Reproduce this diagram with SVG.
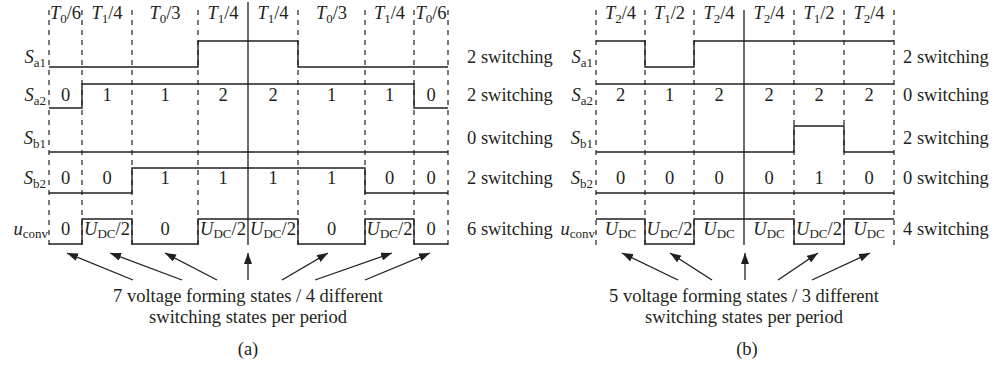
<svg xmlns="http://www.w3.org/2000/svg" width="999" height="367" viewBox="0 0 999 367">
<defs>
<style>
text{font-family:"Liberation Serif","Times New Roman",serif;font-size:18.5px;fill:#231f20}
.c{text-anchor:middle}
.e{text-anchor:end}
.i{font-style:italic}
.s{font-size:13px}
.grid{stroke:#231f20;stroke-width:1.2;stroke-dasharray:5,5;fill:none}
.axis{stroke:#231f20;stroke-width:1.3;fill:none}
.wave{stroke:#231f20;stroke-width:1.4;fill:none}
.arr{stroke:#231f20;stroke-width:1.3;fill:none;marker-end:url(#ah)}
</style>
<marker id="ah" viewBox="0 0 11 8" refX="11" refY="4" markerWidth="11" markerHeight="8" markerUnits="userSpaceOnUse" orient="auto">
<path d="M0,0 L11,4 L0,8 Z" fill="#231f20"/>
</marker>
</defs>
<rect width="999" height="367" fill="#fff"/>

<g id="panel-a">
<g id="a-grid">
<path class="grid" d="M49,10V245M82,10V245M132,10V245M198,10V245M298,10V245M365,10V245M414,10V245M448,10V245"/>
<path class="axis" d="M248,2V245"/>
</g>
<g id="a-headers">
<text class="c" x="65.5" y="19"><tspan class="i">T</tspan><tspan class="s" dy="4">0</tspan><tspan dy="-4">/6</tspan></text>
<text class="c" x="107" y="19"><tspan class="i">T</tspan><tspan class="s" dy="4">1</tspan><tspan dy="-4">/4</tspan></text>
<text class="c" x="165" y="19"><tspan class="i">T</tspan><tspan class="s" dy="4">0</tspan><tspan dy="-4">/3</tspan></text>
<text class="c" x="223" y="19"><tspan class="i">T</tspan><tspan class="s" dy="4">1</tspan><tspan dy="-4">/4</tspan></text>
<text class="c" x="273" y="19"><tspan class="i">T</tspan><tspan class="s" dy="4">1</tspan><tspan dy="-4">/4</tspan></text>
<text class="c" x="331.5" y="19"><tspan class="i">T</tspan><tspan class="s" dy="4">0</tspan><tspan dy="-4">/3</tspan></text>
<text class="c" x="389.5" y="19"><tspan class="i">T</tspan><tspan class="s" dy="4">1</tspan><tspan dy="-4">/4</tspan></text>
<text class="c" x="431" y="19"><tspan class="i">T</tspan><tspan class="s" dy="4">0</tspan><tspan dy="-4">/6</tspan></text>
</g>
<g id="a-row-labels">
<text class="e" x="46" y="63"><tspan class="i">S</tspan><tspan class="s" dy="4">a1</tspan></text>
<text class="e" x="46" y="101"><tspan class="i">S</tspan><tspan class="s" dy="4">a2</tspan></text>
<text class="e" x="46" y="144"><tspan class="i">S</tspan><tspan class="s" dy="4">b1</tspan></text>
<text class="e" x="46" y="184"><tspan class="i">S</tspan><tspan class="s" dy="4">b2</tspan></text>
<text class="e" x="48" y="235"><tspan class="i">u</tspan><tspan class="s" dy="3">conv</tspan></text>
</g>
<g id="a-waves">
<path id="a-sa1" class="wave" d="M49,67H198V41H298V67H448"/>
<path id="a-sa2" class="wave" d="M49,108H82V84H414V108H448"/>
<path id="a-sb1" class="wave" d="M49,152H448"/>
<path id="a-sb2" class="wave" d="M49,193H132V168H365V193H448"/>
<path id="a-uconv" class="wave" d="M49,244H82V219H132V244H198V219H298V244H365V219H414V244H448"/>
</g>
<g id="a-values">
<text class="c" x="65.5" y="101">0</text><text class="c" x="107" y="101">1</text><text class="c" x="165" y="101">1</text><text class="c" x="223" y="101">2</text>
<text class="c" x="273" y="101">2</text><text class="c" x="331.5" y="101">1</text><text class="c" x="389.5" y="101">1</text><text class="c" x="431" y="101">0</text>
<text class="c" x="65.5" y="184">0</text><text class="c" x="107" y="184">0</text><text class="c" x="165" y="184">1</text><text class="c" x="223" y="184">1</text>
<text class="c" x="273" y="184">1</text><text class="c" x="331.5" y="184">1</text><text class="c" x="389.5" y="184">0</text><text class="c" x="431" y="184">0</text>
<text class="c" x="65.5" y="235">0</text>
<text class="c" x="107" y="235"><tspan class="i">U</tspan><tspan class="s" dy="3">DC</tspan><tspan dy="-3">/2</tspan></text>
<text class="c" x="165" y="235">0</text>
<text class="c" x="223" y="235"><tspan class="i">U</tspan><tspan class="s" dy="3">DC</tspan><tspan dy="-3">/2</tspan></text>
<text class="c" x="273" y="235"><tspan class="i">U</tspan><tspan class="s" dy="3">DC</tspan><tspan dy="-3">/2</tspan></text>
<text class="c" x="331.5" y="235">0</text>
<text class="c" x="389.5" y="235"><tspan class="i">U</tspan><tspan class="s" dy="3">DC</tspan><tspan dy="-3">/2</tspan></text>
<text class="c" x="431" y="235">0</text>
</g>
<g id="a-switching">
<text x="467" y="63">2 switching</text>
<text x="467" y="101">2 switching</text>
<text x="467" y="144">0 switching</text>
<text x="467" y="184">2 switching</text>
<text x="467" y="235">6 switching</text>
</g>
<g id="a-connectors">
<path class="arr" d="M133,280L67,253"/>
<path class="arr" d="M182,280L110,253"/>
<path class="arr" d="M217,280L165,253"/>
<path class="arr" d="M248,280L248,253"/>
<path class="arr" d="M282,280L328,253"/>
<path class="arr" d="M315,280L392,253"/>
<path class="arr" d="M365,280L430,253"/>
</g>
<g id="a-caption">
<text class="c" x="248" y="302">7 voltage forming states / 4 different</text>
<text class="c" x="248" y="323">switching states per period</text>
<text class="c" x="248" y="355">(a)</text>
</g>
</g>

<g id="panel-b">
<g id="b-grid">
<path class="grid" d="M596,10V245M645,10V245M694,10V245M794,10V245M844,10V245M894,10V245"/>
<path class="axis" d="M744,10V245"/>
</g>
<g id="b-headers">
<text class="c" x="620.5" y="19"><tspan class="i">T</tspan><tspan class="s" dy="4">2</tspan><tspan dy="-4">/4</tspan></text>
<text class="c" x="669.5" y="19"><tspan class="i">T</tspan><tspan class="s" dy="4">1</tspan><tspan dy="-4">/2</tspan></text>
<text class="c" x="719" y="19"><tspan class="i">T</tspan><tspan class="s" dy="4">2</tspan><tspan dy="-4">/4</tspan></text>
<text class="c" x="769" y="19"><tspan class="i">T</tspan><tspan class="s" dy="4">2</tspan><tspan dy="-4">/4</tspan></text>
<text class="c" x="819" y="19"><tspan class="i">T</tspan><tspan class="s" dy="4">1</tspan><tspan dy="-4">/2</tspan></text>
<text class="c" x="869" y="19"><tspan class="i">T</tspan><tspan class="s" dy="4">2</tspan><tspan dy="-4">/4</tspan></text>
</g>
<g id="b-row-labels">
<text class="e" x="593" y="63"><tspan class="i">S</tspan><tspan class="s" dy="4">a1</tspan></text>
<text class="e" x="593" y="101"><tspan class="i">S</tspan><tspan class="s" dy="4">a2</tspan></text>
<text class="e" x="593" y="144"><tspan class="i">S</tspan><tspan class="s" dy="4">b1</tspan></text>
<text class="e" x="593" y="184"><tspan class="i">S</tspan><tspan class="s" dy="4">b2</tspan></text>
<text class="e" x="595" y="235"><tspan class="i">u</tspan><tspan class="s" dy="3">conv</tspan></text>
</g>
<g id="b-waves">
<path id="b-sa1" class="wave" d="M596,41H645V67H694V41H894"/>
<path id="b-sa2" class="wave" d="M596,84H894"/>
<path id="b-sb1" class="wave" d="M596,152H794V126H844V152H894"/>
<path id="b-sb2" class="wave" d="M596,193H894"/>
<path id="b-uconv" class="wave" d="M596,219H645V244H694V219H794V244H844V219H894"/>
</g>
<g id="b-values">
<text class="c" x="620.5" y="101">2</text><text class="c" x="669.5" y="101">1</text><text class="c" x="719" y="101">2</text>
<text class="c" x="769" y="101">2</text><text class="c" x="819" y="101">2</text><text class="c" x="869" y="101">2</text>
<text class="c" x="620.5" y="184">0</text><text class="c" x="669.5" y="184">0</text><text class="c" x="719" y="184">0</text>
<text class="c" x="769" y="184">0</text><text class="c" x="819" y="184">1</text><text class="c" x="869" y="184">0</text>
<text class="c" x="620.5" y="235"><tspan class="i">U</tspan><tspan class="s" dy="3">DC</tspan></text>
<text class="c" x="669.5" y="235"><tspan class="i">U</tspan><tspan class="s" dy="3">DC</tspan><tspan dy="-3">/2</tspan></text>
<text class="c" x="719" y="235"><tspan class="i">U</tspan><tspan class="s" dy="3">DC</tspan></text>
<text class="c" x="769" y="235"><tspan class="i">U</tspan><tspan class="s" dy="3">DC</tspan></text>
<text class="c" x="819" y="235"><tspan class="i">U</tspan><tspan class="s" dy="3">DC</tspan><tspan dy="-3">/2</tspan></text>
<text class="c" x="869" y="235"><tspan class="i">U</tspan><tspan class="s" dy="3">DC</tspan></text>
</g>
<g id="b-switching">
<text x="903" y="63">2 switching</text>
<text x="903" y="101">0 switching</text>
<text x="903" y="144">2 switching</text>
<text x="903" y="184">0 switching</text>
<text x="903" y="235">4 switching</text>
</g>
<g id="b-connectors">
<path class="arr" d="M678,280L622,253"/>
<path class="arr" d="M712,280L670,253"/>
<path class="arr" d="M745,280L745,253"/>
<path class="arr" d="M778,280L818,253"/>
<path class="arr" d="M812,280L870,253"/>
</g>
<g id="b-caption">
<text class="c" x="744" y="302">5 voltage forming states / 3 different</text>
<text class="c" x="744" y="323">switching states per period</text>
<text class="c" x="747" y="355">(b)</text>
</g>
</g>
</svg>
